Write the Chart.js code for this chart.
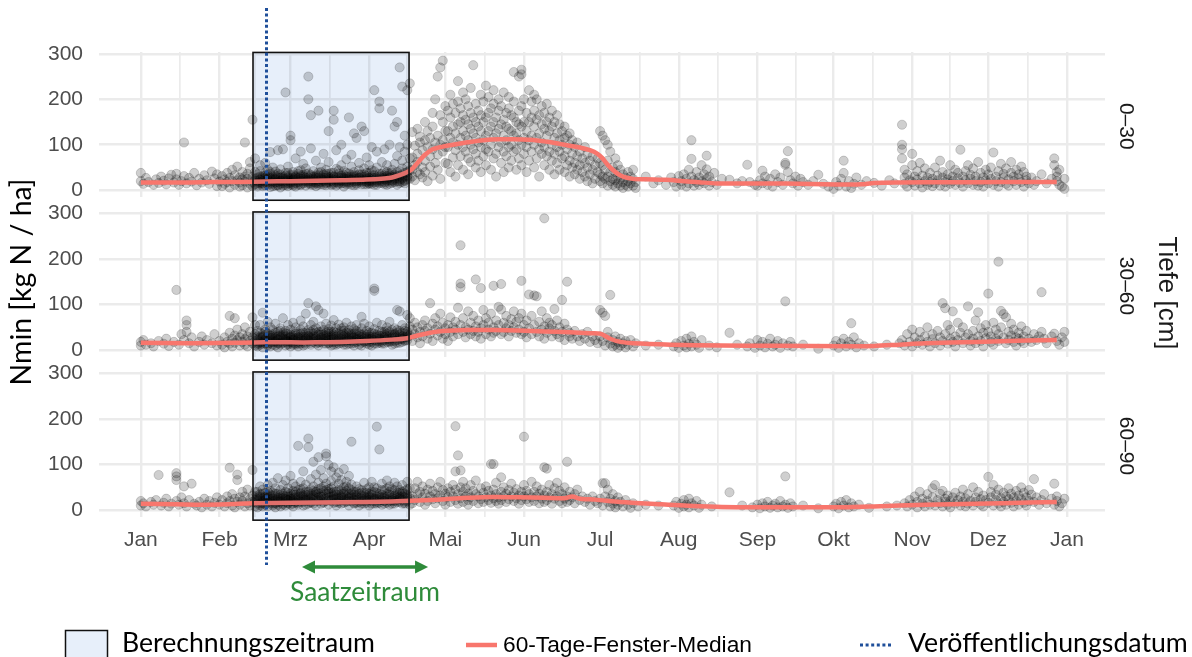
<!DOCTYPE html>
<html>
<head>
<meta charset="utf-8">
<script src="https://cdn.jsdelivr.net/npm/chart.js@4.4.1/dist/chart.umd.min.js"></script>
<style>
  html,body{margin:0;padding:0;background:#fff;}
  #page{position:relative;width:1192px;height:657px;overflow:hidden;background:#fff;}
  canvas{position:absolute;left:0;}
</style>
</head>
<body>
<div id="page">
  <canvas id="c0" width="1192" height="202" style="top:0px"></canvas>
  <canvas id="c1" width="1192" height="160" style="top:202px"></canvas>
  <canvas id="c2" width="1192" height="295" style="top:362px"></canvas>
</div>
<script>
// ---------- axis / facet definitions ----------
const monthStartDays = [1,32,60,91,121,152,182,213,244,274,305,335,366];
const monthLabels = ['Jan','Feb','Mrz','Apr','Mai','Jun','Jul','Aug','Sep','Okt','Nov','Dez','Jan'];
const yTickValues = [0,50,100,150,200,250,300];
const depthLabels = ['0–30','30–60','60–90'];

// ---------- annotations (day of year) ----------
const calcPeriod = [45.2, 106.7];      // Berechnungszeitraum
const publicationDay = 50.5;           // Veröffentlichungsdatum
const sowingPeriod = [64.5, 114.2];    // Saatzeitraum

// ---------- 60-day window median ----------
const medDays030 = [1,10,20,30,40,50,60,70,80,90,97,100,103,106,108,110,113,116,120,124,128,132,136,142,148,154,158,162,166,170,174,178,181,183,185,187,189,191,195,200,208,215,221,228,240,250,260,270,280,285,290,300,320,340,362];
const medVals030 = [17,17,17,18,18,19,20,21,22,23.5,26,28,33,40,47,60,78,90,96,100,104,107,110,112,112,111,109,106,102,98,94,88,80,70,56,45,36,30,25,24,23,20,17.6,15,15,15,14,13,12.5,13,16,17,17.5,18,18];
const medDays3060 = [1,20,40,50,60,70,80,90,100,106,110,115,120,130,140,150,160,170,178,182,186,190,195,210,230,250,280,290,300,310,330,350,362];
const medVals3060 = [16,15,16,17,17,17,18,20,23,26,32,38,42,44,44,43,41,39,37,36,25,18,15,12,10,9.6,8.6,9,12,15,18,21,22];
const medDays6090 = [1,15,25,35,45,60,80,100,110,121,130,140,150,160,168,171,174,180,190,205,215,230,260,280,290,300,320,340,362];
const medVals6090 = [14,13,12,13,15,16,17,19,21,24,27,29,28,27,26,30,25,23,18,13,10,7,6.5,6.5,8,10,13,15,18];

// ---------- observations: [day, Nmin] pairs ----------
const pts030 = [
1,38,1,20,2,14,3,27,4,18,6,12,7,24,8,16,9,30,10,21,11,13,12,26,13,34,14,17,15,36,15,24,16,12,17,20,18,105,18,31,19,15,20,27,21,19,22,38,23,11,24,25,25,17,26,33,27,22,28,14,29,41,30,26,31,9,31,35,
32,19,33,31,33,9,34,24,34,14,35,38,35,18,36,6,36,27,37,45,37,20,38,12,38,33,39,22,39,52,40,8,40,28,40,17,41,40,41,24,41,11,42,105,42,30,42,19,43,6,43,36,43,25,44,14,44,48,44,62,45,155,45,29,45,18,45,9,46,40,46,22,46,70,46,13,
47,12,47,28,47,35,47,8,48,18,48,42,48,24,48,55,49,9,49,31,49,20,49,15,50,26,50,38,50,11,50,60,51,22,51,17,51,45,51,30,52,7,52,25,52,36,52,84,53,14,53,29,53,20,53,50,54,33,54,10,54,23,54,41,55,18,55,27,55,88,55,12,56,35,56,21,56,6,56,46,57,25,57,15,57,30,57,90,58,215,58,19,58,38,58,11,59,28,59,22,59,52,59,9,60,120,60,110,60,16,60,33,60,26,61,13,61,24,61,40,61,19,62,31,62,8,62,22,62,70,63,17,63,36,63,27,63,12,64,21,64,44,64,30,64,85,65,15,65,25,65,58,65,34,66,10,66,28,66,19,66,48,67,250,67,200,67,23,67,37,67,14,68,165,68,31,68,20,68,92,69,26,69,12,69,42,69,18,70,33,70,22,70,65,70,9,71,175,71,28,71,16,71,39,72,24,72,13,72,50,72,30,73,19,73,35,73,27,73,80,74,11,74,23,74,45,74,32,75,130,75,18,75,29,75,62,76,21,76,14,76,38,76,26,77,175,77,155,77,31,77,17,78,24,78,10,78,47,78,88,79,28,79,19,79,36,79,13,80,100,80,22,80,33,80,55,81,16,81,27,81,42,81,8,82,30,82,20,82,68,82,25,83,160,83,14,83,37,83,23,84,29,84,18,84,52,84,78,85,125,85,11,85,26,85,40,86,115,86,21,86,33,86,15,87,27,87,44,87,19,87,60,88,140,88,24,88,13,88,35,89,130,89,29,89,20,89,48,90,17,90,31,90,25,90,72,91,22,91,38,91,14,91,55,92,28,92,19,92,44,92,95,93,220,93,23,93,33,93,12,94,26,94,50,94,18,94,85,95,195,95,180,95,30,95,21,96,36,96,16,96,62,96,27,97,24,97,42,97,90,97,13,98,31,98,19,98,55,99,100,99,28,99,37,99,22,100,175,100,45,100,16,100,30,101,140,101,26,101,58,101,35,102,150,102,20,102,40,102,75,103,270,103,32,103,24,103,95,104,228,104,48,104,28,104,65,105,120,105,38,105,22,105,85,106,220,106,30,106,52,106,100,107,235,107,44,107,25,107,70,
108,128,108,45,108,72,108,30,109,98,109,55,109,22,110,135,110,40,110,80,110,62,111,105,111,35,111,118,112,50,112,88,112,28,113,150,113,65,113,110,113,40,114,95,114,130,114,20,115,75,115,115,115,52,116,170,116,140,116,90,116,32,117,200,117,60,117,105,118,250,118,120,118,78,118,45,119,270,119,165,119,100,119,25,120,285,120,150,120,85,120,110,121,185,121,130,121,60,121,95,
122,175,122,95,122,130,122,58,123,160,123,210,123,115,123,40,124,190,124,140,124,105,124,72,125,170,125,125,125,88,125,30,126,240,126,195,126,145,126,100,126,55,127,180,127,150,127,115,127,75,128,215,128,165,128,130,128,95,128,45,129,200,129,155,129,120,129,85,130,185,130,145,130,110,130,70,130,35,131,225,131,170,131,135,131,100,131,62,132,275,132,160,132,125,132,90,133,190,133,150,133,115,133,80,133,50,134,175,134,140,134,105,134,65,135,210,135,165,135,130,135,95,135,40,136,195,136,150,136,110,136,75,137,230,137,160,137,120,137,90,137,55,138,205,138,170,138,130,138,85,139,180,139,140,139,100,139,45,140,220,140,190,140,150,140,115,140,70,141,160,141,125,141,80,141,30,142,200,142,175,142,135,142,95,143,185,143,145,143,105,143,60,144,215,144,155,144,120,144,85,144,40,145,170,145,140,145,110,145,75,146,205,146,180,146,135,146,95,146,50,147,165,147,130,147,100,147,65,148,260,148,195,148,160,148,120,148,85,149,150,149,125,149,90,149,45,150,250,150,175,150,145,150,110,150,70,151,265,151,255,151,185,151,140,151,100,151,55,152,200,152,150,152,115,152,80,
153,170,153,130,153,95,153,40,154,220,154,150,154,110,154,65,155,195,155,160,155,120,155,85,156,210,156,175,156,140,156,100,156,50,157,200,157,155,157,115,157,70,158,165,158,125,158,90,158,30,159,185,159,145,159,105,159,80,160,170,160,135,160,95,160,55,161,190,161,150,161,120,161,75,162,160,162,130,162,85,162,45,163,175,163,140,163,100,163,65,164,150,164,115,164,80,164,35,165,165,165,125,165,95,165,60,166,145,166,110,166,85,166,45,167,130,167,100,167,70,168,140,168,115,168,75,168,40,169,120,169,90,169,55,170,125,170,100,170,65,170,30,171,110,171,80,171,50,172,95,172,60,172,35,173,105,173,75,173,45,174,85,174,55,174,25,175,70,175,40,176,95,176,60,176,30,177,80,177,50,177,20,178,65,178,35,179,75,179,45,179,15,
180,55,180,25,181,70,181,40,182,130,182,60,182,35,182,20,183,120,183,55,183,30,183,15,184,110,184,45,184,25,185,100,185,65,185,30,185,10,186,85,186,40,186,20,187,50,187,25,187,12,188,70,188,40,188,22,188,8,189,55,189,30,189,15,190,45,190,25,190,10,191,35,191,18,191,5,192,28,192,12,193,40,193,20,193,8,194,30,194,15,195,45,195,25,195,10,196,18,196,5,200,30,203,15,205,22,208,12,210,28,211,18,212,8,
213,31,214,20,214,12,215,35,216,25,216,8,217,45,217,15,218,110,218,69,218,30,219,22,219,10,220,40,220,18,221,28,221,12,222,55,222,20,223,35,223,15,224,76,224,46,224,25,225,30,225,10,226,18,227,38,228,12,230,25,233,23,236,15,238,20,240,56,241,18,243,12,
244,10,245,22,246,43,246,15,247,30,248,12,249,25,250,8,251,35,252,18,253,28,254,12,255,60,255,56,256,86,256,40,257,22,258,15,259,30,260,10,261,25,262,18,264,12,266,20,268,34,270,14,272,8,
274,3,275,18,276,10,277,25,278,38,278,65,279,8,280,20,281,5,282,14,283,28,285,12,287,20,290,16,293,10,296,22,298,15,
301,144,301,100,301,90,301,70,302,45,302,28,302,14,303,35,303,8,304,22,305,80,305,55,305,18,306,30,306,10,307,42,307,24,308,15,308,60,309,32,309,6,310,20,310,48,311,12,311,28,312,38,312,18,313,9,313,25,314,50,314,15,315,32,315,22,316,65,316,10,317,28,317,40,318,18,318,8,319,35,319,24,320,14,320,55,321,30,321,20,322,45,322,12,323,26,323,38,324,89,324,16,325,30,325,8,326,22,326,42,327,55,327,15,328,34,328,25,329,12,329,48,330,20,330,30,331,62,331,10,332,38,332,18,333,28,333,8,334,45,334,22,
335,15,335,35,336,25,336,50,337,83,337,12,338,30,338,20,339,42,339,8,340,18,340,58,341,28,341,36,342,14,342,48,343,24,343,10,344,38,344,62,345,20,345,30,346,45,346,12,347,26,347,35,348,18,348,52,349,40,349,8,350,22,350,30,351,15,352,28,353,12,354,20,356,35,358,15,360,25,361,70,361,55,362,40,362,30,362,20,363,45,363,12,364,8,365,25,365,3
];
// dense core of the sampling window, 0–30 cm
const core030 = [
47,20,48,15,48,30,49,24,50,18,50,32,51,12,51,26,52,19,52,40,53,24,53,9,54,17,54,29,55,22,55,36,56,14,56,27,57,20,57,10,58,25,58,32,59,15,59,38,60,21,60,12,61,28,61,34,62,16,62,26,63,22,63,42,64,13,64,25,65,19,65,30,66,23,66,36,67,17,67,28,68,12,68,24,69,30,69,21,70,15,70,27,71,20,71,33,72,18,72,40,73,23,73,12,74,28,74,17,75,22,75,36,76,30,76,11,77,24,77,38,78,18,78,29,79,22,79,44,80,15,80,27,81,20,81,34,82,13,82,38,83,26,83,18,84,24,84,33,85,19,85,30,86,25,86,12,87,22,87,35,88,18,88,29,89,13,89,24,90,20,90,38,91,27,91,16,92,33,92,23,93,18,93,42,94,29,94,12,95,24,95,36,96,20,96,31,97,17,97,28,98,25,98,40,99,14,99,33,100,22,100,38,101,18,101,30,102,26,102,12,103,20,103,42,104,35,104,18,105,30,105,15,106,24,106,40,
46,25,47,16,48,22,49,12,49,28,50,21,51,33,52,14,52,28,53,18,54,25,55,10,55,31,56,20,57,27,58,14,58,22,59,31,60,18,61,10,61,23,62,29,63,19,64,33,64,11,65,22,66,27,67,20,68,15,68,34,69,24,70,18,70,30,71,12,72,27,73,21,74,15,74,36,75,26,76,19,77,13,77,29,78,22,79,16,80,31,80,20,81,25,82,17,83,30,84,12,84,22,85,33,86,19,87,28,88,21,89,35,90,13,90,27,91,20,92,14,93,27,94,21,95,16,96,24,97,33,98,12,98,22,99,27,100,19,101,23,102,31,103,16,104,25,105,20,106,33
];

const pts3060 = [
1,18,1,10,2,22,3,12,5,15,6,8,8,20,10,14,11,25,12,9,14,18,15,132,16,12,17,35,18,22,19,65,19,55,19,40,20,15,21,28,22,8,24,18,25,30,26,12,27,22,29,15,30,35,31,10,
32,20,33,12,34,28,34,6,35,18,36,75,36,38,36,14,37,25,37,8,38,70,38,32,38,16,39,22,39,45,40,10,40,28,41,18,41,35,42,12,42,50,42,24,43,30,43,8,44,20,44,40,45,72,45,15,45,28,46,35,46,10,46,55,
47,15,47,30,47,8,47,42,48,22,48,12,48,38,48,55,49,18,49,28,49,6,49,82,50,25,50,14,50,45,50,33,51,10,51,20,51,36,51,62,52,28,52,16,52,50,52,8,53,22,53,35,53,12,53,44,54,18,54,30,54,58,54,25,55,14,55,40,55,6,55,22,56,32,56,20,56,48,56,12,57,26,57,38,57,16,57,70,58,10,58,24,58,42,58,30,59,20,59,55,59,14,59,35,60,28,60,8,60,45,60,18,61,32,61,22,61,60,61,12,62,40,62,26,62,15,62,50,63,18,63,35,63,8,63,28,64,24,64,45,64,14,64,65,65,30,65,20,65,52,65,10,66,38,66,26,66,16,66,80,67,103,67,22,67,44,67,32,68,12,68,28,68,55,68,40,69,18,69,36,69,24,69,62,70,96,70,30,70,14,70,48,71,88,71,22,71,40,71,10,72,26,72,52,72,34,72,18,73,80,73,20,73,44,73,30,74,14,74,38,74,58,74,24,75,28,75,46,75,16,75,36,76,22,76,54,76,10,76,32,77,40,77,26,77,66,77,18,78,30,78,12,78,48,78,24,79,36,79,20,79,56,80,28,80,16,80,42,80,34,81,22,81,50,81,12,81,30,82,38,82,18,82,60,82,26,83,14,83,32,83,44,84,24,84,52,84,20,84,36,85,10,85,28,85,46,86,34,86,18,86,55,86,24,87,40,87,12,87,30,88,22,88,48,88,16,88,73,89,36,89,26,89,58,90,20,90,42,90,14,91,30,91,52,91,18,92,24,92,38,92,10,93,135,93,130,93,28,93,46,94,20,94,34,94,60,95,16,95,42,95,26,96,32,96,22,96,55,97,40,97,14,97,28,98,36,98,24,98,50,99,30,99,18,99,62,100,44,100,26,100,12,101,34,101,20,101,48,102,38,102,28,102,88,103,85,103,42,103,16,104,30,104,55,104,24,105,48,105,36,105,20,106,77,106,40,106,28,107,70,107,32,107,52,
108,20,108,45,109,35,109,60,110,28,110,50,111,40,111,15,112,55,112,30,113,65,113,42,114,25,114,48,115,103,115,36,116,58,116,20,117,45,117,70,118,32,118,52,119,40,119,80,120,25,120,60,121,48,121,35,122,55,122,20,123,72,123,40,124,30,124,50,125,62,125,45,126,93,126,35,127,230,127,146,127,138,127,55,128,40,128,70,129,28,129,50,130,85,130,45,131,60,131,35,132,42,132,75,133,155,133,52,133,30,134,65,134,40,135,136,135,48,135,25,136,88,136,55,137,35,137,70,138,45,138,60,139,30,139,80,140,141,140,50,140,38,141,65,141,42,142,95,142,55,143,145,143,89,143,35,144,60,144,40,145,75,145,48,146,30,146,55,147,68,147,42,148,85,148,50,149,38,149,62,150,70,150,45,151,152,151,80,151,35,152,55,152,40,
153,65,153,28,154,122,154,48,155,75,155,35,156,120,156,55,157,118,157,40,158,62,158,30,159,85,159,45,160,289,160,52,160,25,161,70,161,38,162,48,162,60,163,30,163,55,164,90,164,42,165,65,165,35,166,28,166,50,167,110,167,40,168,58,168,22,169,150,169,45,170,30,170,38,171,25,172,42,173,30,174,20,175,35,176,25,177,40,178,18,179,30,180,22,
181,15,182,88,182,30,183,82,183,20,184,75,184,10,185,28,185,40,186,121,186,14,187,22,187,8,188,30,188,12,189,18,189,5,190,25,190,10,191,15,192,20,192,6,193,12,194,22,195,8,196,15,200,10,205,12,
211,8,212,15,213,5,214,20,215,10,216,25,216,6,217,14,218,30,218,8,219,18,220,12,221,5,222,22,225,10,228,6,233,38,236,12,240,8,
241,15,243,5,244,22,245,10,246,18,247,6,248,14,249,25,250,8,251,12,252,20,253,5,254,15,255,107,256,10,257,18,258,8,262,12,268,3,
274,10,275,20,276,5,277,15,278,25,279,8,280,18,281,59,281,12,282,28,283,6,284,15,286,10,290,8,295,12,300,15,
301,22,302,10,303,35,304,18,305,45,305,8,306,28,307,15,308,40,308,22,309,12,310,30,311,50,311,18,312,8,313,35,313,24,314,15,315,42,316,28,316,10,317,103,317,20,318,92,318,35,319,55,319,14,320,25,320,45,321,85,321,18,322,30,322,8,323,60,323,22,324,38,325,15,325,50,326,28,327,96,327,35,328,20,328,10,329,42,329,25,330,65,330,15,331,83,331,30,332,48,332,20,333,38,333,8,334,55,334,26,
335,124,335,40,336,18,336,30,337,60,337,12,338,45,338,25,339,194,339,35,339,20,340,86,340,50,341,79,341,28,342,72,342,15,343,40,343,22,344,58,344,32,345,18,345,45,346,28,346,10,347,38,347,25,348,52,348,20,349,30,349,15,350,42,351,25,352,18,353,35,354,22,355,30,356,127,356,40,357,25,358,15,360,30,361,36,362,20,363,12,364,28,365,40,365,18
];
// dense core of the sampling window, 30–60 cm
const core3060 = [
47,22,47,12,48,28,48,18,49,35,49,14,50,20,50,40,51,26,51,15,52,32,52,22,53,18,53,28,54,38,54,10,55,24,55,30,56,16,56,42,57,22,57,30,58,18,58,36,59,26,59,12,60,34,60,22,61,16,61,28,62,20,62,36,63,24,63,14,64,30,64,20,65,38,65,26,66,12,66,30,67,20,67,36,68,24,68,16,69,30,69,44,70,20,70,26,71,34,71,16,72,28,72,40,73,14,73,24,74,32,74,20,75,22,75,40,76,28,76,18,77,34,77,12,78,20,78,38,79,28,79,14,80,24,80,48,81,36,81,18,82,30,82,12,83,22,83,38,84,28,84,14,85,20,85,36,86,28,86,42,87,20,87,24,88,34,88,10,89,20,89,30,90,26,90,34,91,12,91,24,92,30,92,18,93,22,93,36,94,26,94,14,95,32,95,20,96,40,96,14,97,22,97,34,98,18,98,30,99,24,99,40,100,20,100,34,101,28,101,14,102,22,102,44,103,30,103,24,104,38,104,18,105,28,105,42,106,22,106,34,
46,20,47,26,48,16,49,30,50,22,51,12,52,26,53,32,54,20,55,16,56,28,57,34,58,22,59,18,60,30,61,24,62,12,63,28,64,36,65,16,66,24,67,30,68,20,69,26,70,38,71,18,72,22,73,34,74,26,75,14,76,40,77,30,78,16,79,24,80,20,81,42,82,22,83,28,84,32,85,16,86,24,87,36,88,28,89,18,90,30,91,38,92,26,93,14,94,30,95,24,96,18,97,30,98,42,99,20,100,28,101,36,102,16,103,34,104,26,105,22,106,30
];

const pts6090 = [
1,20,1,10,2,15,3,8,5,18,6,12,7,22,8,77,9,10,10,16,11,25,12,8,13,14,15,81,15,74,15,66,15,20,16,12,17,28,18,52,18,15,19,8,20,22,21,58,22,14,23,10,24,18,25,6,26,25,27,12,28,20,29,8,30,16,31,28,
32,12,33,22,34,8,35,30,35,15,36,93,36,20,37,10,37,35,38,25,38,6,39,78,39,18,39,66,40,28,40,12,41,40,41,20,42,8,42,30,43,15,43,45,44,24,44,10,45,88,45,32,45,18,46,22,46,8,46,40,
47,14,47,28,47,6,47,40,48,20,48,10,48,35,48,52,49,16,49,26,49,8,49,45,50,22,50,12,50,38,50,30,51,18,51,8,51,28,51,55,52,24,52,14,52,42,52,34,53,10,53,20,53,32,53,60,54,26,54,16,54,48,54,6,55,22,55,36,55,12,55,70,56,28,56,18,56,44,56,8,57,32,57,20,57,55,57,14,58,24,58,40,58,10,58,65,59,30,59,16,59,48,59,22,60,12,60,36,60,26,60,75,61,20,61,42,61,8,61,58,62,28,62,16,62,52,62,34,63,141,63,22,63,44,63,12,64,30,64,62,64,18,64,38,65,24,65,48,65,10,65,85,66,34,66,20,66,56,66,28,67,157,67,138,67,40,67,14,68,26,68,68,68,18,68,46,69,106,69,32,69,22,69,52,70,10,70,40,70,28,70,78,71,116,71,20,71,36,71,60,72,30,72,14,72,48,72,88,73,24,73,42,73,70,73,18,74,124,74,118,74,36,74,58,75,99,75,28,75,12,75,46,76,85,76,22,76,38,76,64,77,30,77,16,77,52,77,94,78,26,78,40,78,72,78,10,79,34,79,20,79,58,79,82,80,28,80,44,80,14,80,66,81,22,81,36,81,90,81,50,82,30,82,18,82,42,82,62,83,26,83,10,83,48,83,75,84,150,84,34,84,20,84,56,85,28,85,14,85,40,86,22,86,52,86,32,87,18,87,36,87,10,88,26,88,44,88,14,89,30,89,20,89,60,90,16,90,38,90,24,91,28,91,10,91,50,92,20,92,34,92,62,93,26,93,14,93,40,94,183,94,30,94,48,94,18,95,133,95,22,95,36,96,12,96,28,96,58,97,20,97,44,97,30,98,16,98,36,98,65,99,26,99,52,99,12,100,32,100,20,100,46,101,24,101,60,101,14,102,38,102,28,102,52,103,18,103,44,103,30,104,22,104,55,104,36,105,28,105,42,105,14,106,20,106,62,106,34,107,26,107,48,107,12,
108,30,108,15,109,48,109,22,110,62,110,35,111,18,111,40,112,28,112,52,113,12,113,36,114,45,114,20,115,58,115,30,116,24,116,42,117,15,117,35,118,50,118,26,119,62,119,32,120,20,120,44,121,36,121,12,122,28,122,48,123,18,123,40,124,55,124,30,125,184,125,85,125,22,125,45,126,120,126,35,126,14,127,87,127,50,127,26,128,40,128,18,128,62,129,30,129,48,130,22,130,36,130,12,131,55,131,28,132,42,132,20,133,35,133,65,134,15,134,30,135,48,135,24,136,38,136,18,137,52,137,28,138,22,138,42,139,101,139,32,139,16,140,101,140,45,140,26,141,20,141,60,141,35,142,28,142,14,143,72,143,40,143,22,144,50,144,30,145,18,145,36,146,44,146,24,147,30,147,58,148,20,148,38,149,46,149,26,150,32,150,14,151,40,151,22,152,161,152,55,152,30,
153,24,153,42,154,18,154,35,155,62,155,28,156,40,156,20,157,30,157,52,158,15,158,36,159,45,159,25,160,94,160,32,160,18,161,91,161,40,161,22,162,28,162,55,163,35,163,14,164,48,164,25,165,30,165,60,166,20,166,42,167,35,167,15,168,50,168,25,169,106,169,30,169,18,170,40,170,22,171,28,172,35,172,15,173,45,174,22,175,30,176,18,177,25,178,12,179,30,180,20,
181,15,182,25,183,59,183,10,184,59,184,30,185,45,185,18,186,25,186,8,187,35,187,14,188,20,188,6,189,28,189,12,190,18,191,8,192,22,193,12,194,5,195,15,197,8,200,12,205,10,
211,10,212,18,213,5,214,14,215,22,215,8,216,12,217,25,217,6,218,15,219,10,220,20,221,5,222,12,226,8,233,39,238,10,
242,6,244,12,245,4,246,15,247,8,248,18,249,5,250,10,251,14,252,6,253,20,254,8,255,74,255,12,256,5,257,15,258,8,262,10,268,4,
274,8,275,14,276,4,277,18,278,10,279,22,280,6,281,15,282,8,284,12,288,5,295,8,299,10,
302,15,303,8,304,22,305,12,306,30,307,6,307,18,308,40,309,14,309,25,310,8,311,35,311,20,312,12,313,48,313,28,314,55,314,10,315,22,316,36,316,15,317,8,317,42,318,25,318,18,319,12,319,32,320,20,320,6,321,28,322,14,322,38,323,22,324,10,324,30,325,45,325,18,326,8,326,26,327,35,327,14,328,20,329,50,329,10,330,28,330,18,331,40,332,12,332,24,333,32,333,8,334,22,
335,73,335,16,336,40,336,28,337,10,337,55,338,22,338,34,339,14,339,45,340,26,340,8,341,38,341,18,342,30,342,12,343,48,343,24,344,16,344,36,345,28,345,8,346,42,346,20,347,12,347,32,348,24,348,50,349,16,349,38,350,28,350,10,351,20,351,44,352,34,353,68,353,18,354,28,355,12,356,22,357,35,358,15,360,25,361,58,361,12,362,30,362,20,363,8,364,15,365,25
];
// dense core of the sampling window, 60–90 cm
const core6090 = [
47,20,47,32,48,14,48,26,49,20,49,36,50,16,50,28,51,22,51,40,52,18,52,30,53,26,53,14,54,36,54,22,55,18,55,28,56,24,56,34,57,12,57,26,58,30,58,18,59,22,59,38,60,20,60,30,61,14,61,26,62,22,62,40,63,30,63,16,64,24,64,46,65,18,65,32,66,12,66,40,67,26,67,22,68,32,68,36,69,14,69,42,70,20,70,34,71,28,71,46,72,22,72,38,73,30,73,52,74,20,74,44,75,36,75,22,76,30,76,48,77,24,77,40,78,18,78,34,79,26,79,44,80,22,80,36,81,16,81,28,82,24,82,52,83,20,83,36,84,28,84,44,85,22,85,34,86,16,86,40,87,26,87,46,88,20,88,32,89,14,89,38,90,28,90,46,91,22,91,36,92,14,92,28,93,20,93,50,94,24,94,38,95,16,95,30,96,22,96,44,97,14,97,26,98,24,98,48,99,20,99,34,100,26,100,14,101,32,101,44,102,18,102,22,103,26,103,38,104,14,104,30,105,20,105,36,106,26,106,46,
46,18,47,24,48,30,49,14,50,24,51,32,52,20,53,38,54,14,55,26,56,20,57,36,58,26,59,14,60,24,61,34,62,18,63,26,64,36,65,28,66,22,67,34,68,16,69,26,70,40,71,22,72,30,73,16,74,26,75,40,76,20,77,32,78,26,79,16,80,30,81,40,82,20,83,28,84,36,85,16,86,28,87,22,88,38,89,24,90,20,91,30,92,40,93,24,94,14,95,26,96,34,97,20,98,30,99,40,100,22,101,20,102,32,103,24,104,40,105,16,106,30
];

// ---------- helpers ----------
function pairs(flat){ const out=[]; for(let i=0;i<flat.length;i+=2) out.push({x:flat[i],y:flat[i+1]}); return out; }
function zip(xs,ys){ return xs.map((x,i)=>({x:x,y:ys[i]})); }
const xTickValues = (()=>{ const t=[]; for(let i=0;i<monthStartDays.length;i++){ t.push(monthStartDays[i]); if(i<monthStartDays.length-1) t.push((monthStartDays[i]+monthStartDays[i+1])/2); } return t; })();

function fitSize(ctx, text, family, target){
  ctx.font = '100px ' + family;
  return 100 * target / ctx.measureText(text).width;
}
function drawFitText(ctx, text, family, target, cx, cy, rot, color, align, baseline){
  const s = fitSize(ctx, text, family, target);
  ctx.save();
  ctx.translate(cx, cy); ctx.rotate(rot||0);
  ctx.font = s.toFixed(2) + 'px ' + family;
  ctx.fillStyle = color; ctx.textAlign = align||'center'; ctx.textBaseline = baseline||'middle';
  ctx.fillText(text, 0, 0);
  ctx.restore();
}

const BLUE = '#1f4f9a', RED = '#f8766d', GREEN = '#2e8b3a', RECTFILL = 'rgb(231,239,250)';

// page-level overlays, drawn in page coordinates in every canvas
function drawGlobal(ctx, x){
  const px = Math.round(x.getPixelForValue(publicationDay)) + 0.5;
  ctx.save();
  ctx.strokeStyle = BLUE; ctx.lineWidth = 3; ctx.setLineDash([3,2.6]);
  ctx.beginPath(); ctx.moveTo(px, 8); ctx.lineTo(px, 565); ctx.stroke();
  ctx.restore();
  drawFitText(ctx, 'Nmin [kg N / ha]', 'Lato', 207, 22, 282, -Math.PI/2, '#000');
  drawFitText(ctx, 'Tiefe [cm]', '"Liberation Sans"', 113, 1166, 293, Math.PI/2, '#1a1a1a');
  const a = x.getPixelForValue(sowingPeriod[0]), b = x.getPixelForValue(sowingPeriod[1]);
  const ay = 567, hl = 13, hw = 6.5;
  ctx.save();
  ctx.strokeStyle = GREEN; ctx.fillStyle = GREEN; ctx.lineWidth = 3.5;
  ctx.beginPath(); ctx.moveTo(a+hl-2, ay); ctx.lineTo(b-hl+2, ay); ctx.stroke();
  ctx.beginPath(); ctx.moveTo(a, ay); ctx.lineTo(a+hl, ay-hw); ctx.lineTo(a+hl, ay+hw); ctx.closePath(); ctx.fill();
  ctx.beginPath(); ctx.moveTo(b, ay); ctx.lineTo(b-hl, ay-hw); ctx.lineTo(b-hl, ay+hw); ctx.closePath(); ctx.fill();
  ctx.restore();
  drawFitText(ctx, 'Saatzeitraum', 'Lato', 150, (a+b)/2, 601, 0, GREEN, 'center', 'alphabetic');
  ctx.save();
  ctx.fillStyle = RECTFILL; ctx.fillRect(65.5, 630.5, 42, 32);
  ctx.strokeStyle = '#111'; ctx.lineWidth = 1.5; ctx.strokeRect(65.5, 630.5, 42, 32);
  ctx.strokeStyle = RED; ctx.lineWidth = 4.5; ctx.beginPath(); ctx.moveTo(466, 645); ctx.lineTo(497, 645); ctx.stroke();
  ctx.strokeStyle = BLUE; ctx.lineWidth = 3; ctx.setLineDash([3,2.6]); ctx.beginPath(); ctx.moveTo(860, 645); ctx.lineTo(893, 645); ctx.stroke();
  ctx.restore();
  drawFitText(ctx, 'Berechnungszeitraum', 'Lato', 253, 122, 652, 0, '#000', 'left', 'alphabetic');
  drawFitText(ctx, '60-Tage-Fenster-Median', '"Liberation Sans"', 249, 503, 652, 0, '#000', 'left', 'alphabetic');
  drawFitText(ctx, 'Veröffentlichungsdatum', 'Lato', 280, 908, 652, 0, '#000', 'left', 'alphabetic');
}

const overlay = {
  id: 'overlay',
  afterDatasetsDraw(chart){
    const {ctx, scales:{x,y}} = chart;
    const x0 = x.getPixelForValue(calcPeriod[0]), x1 = x.getPixelForValue(calcPeriod[1]);
    const yt = y.getPixelForValue(303), yb = y.getPixelForValue(-22);
    ctx.save();
    ctx.globalCompositeOperation = 'multiply';
    ctx.fillStyle = RECTFILL;
    ctx.fillRect(x0, yt, x1-x0, yb-yt);
    ctx.globalCompositeOperation = 'source-over';
    ctx.strokeStyle = '#111'; ctx.lineWidth = 1.6;
    ctx.strokeRect(x0, yt, x1-x0, yb-yt);
    ctx.restore();
  },
  afterDraw(chart, args, opts){
    const {ctx, chartArea, scales:{x}} = chart;
    ctx.save();
    ctx.translate(1126, (chartArea.top+chartArea.bottom)/2 + 2);
    ctx.rotate(Math.PI/2);
    ctx.font = '21px "Liberation Sans"'; ctx.fillStyle = '#1a1a1a';
    ctx.textAlign = 'center'; ctx.textBaseline = 'middle';
    ctx.fillText(opts.strip, 0, 0);
    ctx.restore();
    ctx.save();
    ctx.translate(0, -opts.pageTop);
    drawGlobal(ctx, x);
    ctx.restore();
  }
};

const facets = [
  {id:'c0', pageTop:0,   padTop:52,  padBottom:5,     pts:pts030.concat(core030),   md:medDays030,  mv:medVals030},
  {id:'c1', pageTop:202, padTop:9.5, padBottom:5.5,   pts:pts3060.concat(core3060), md:medDays3060, mv:medVals3060},
  {id:'c2', pageTop:362, padTop:9.5, padBottom:100.5, pts:pts6090.concat(core6090), md:medDays6090, mv:medVals6090}
];

facets.forEach((f, i) => {
  const showX = (i === facets.length - 1);
  new Chart(document.getElementById(f.id), {
    type: 'scatter',
    data: {
      datasets: [
        { data: zip(f.md, f.mv), showLine: true, borderColor: RED, borderWidth: 4.5, pointRadius: 0, tension: 0.3, order: 0 },
        { data: pairs(f.pts), pointRadius: 4.6, pointBorderWidth: 0.8,
          pointBackgroundColor: 'rgba(0,0,0,0.19)', pointBorderColor: 'rgba(0,0,0,0.21)', order: 1 }
      ]
    },
    plugins: [overlay],
    options: {
      responsive: false, animation: false, devicePixelRatio: 1, events: [],
      layout: { padding: { left: 0, right: 87, top: f.padTop, bottom: f.padBottom } },
      plugins: { legend: { display: false }, tooltip: { enabled: false },
                 overlay: { strip: depthLabels[i], pageTop: f.pageTop } },
      scales: {
        x: {
          type: 'linear', min: -15.5, max: 381,
          afterBuildTicks: s => { s.ticks = xTickValues.map(v => ({ value: v })); },
          afterFit: s => { s.height = showX ? 40 : 0; s.paddingLeft = 0; s.paddingRight = 0; },
          ticks: {
            display: showX, autoSkip: false, maxRotation: 0, minRotation: 0, padding: 11,
            color: '#4d4d4d', font: { family: '"Liberation Sans"', size: 21 },
            callback: v => { const k = monthStartDays.indexOf(v); return k >= 0 ? monthLabels[k] : ''; }
          },
          grid: { color: '#ebebeb', drawTicks: false,
                  lineWidth: c => (monthStartDays.indexOf(c.tick.value) >= 0 ? 2.4 : 1.7) },
          border: { display: false }
        },
        y: {
          min: -14, max: 304,
          afterBuildTicks: s => { s.ticks = yTickValues.map(v => ({ value: v })); },
          afterFit: s => { s.width = 99; s.paddingTop = 0; s.paddingBottom = 0; },
          ticks: { padding: 16, color: '#4d4d4d', font: { family: '"Liberation Sans"', size: 21 },
                   callback: v => (v % 100 === 0 ? String(v) : '') },
          grid: { color: '#ebebeb', drawTicks: false,
                  lineWidth: c => (c.tick.value % 100 === 0 ? 2.6 : 1.7) },
          border: { display: false }
        }
      }
    }
  });
});
</script>
</body>
</html>
